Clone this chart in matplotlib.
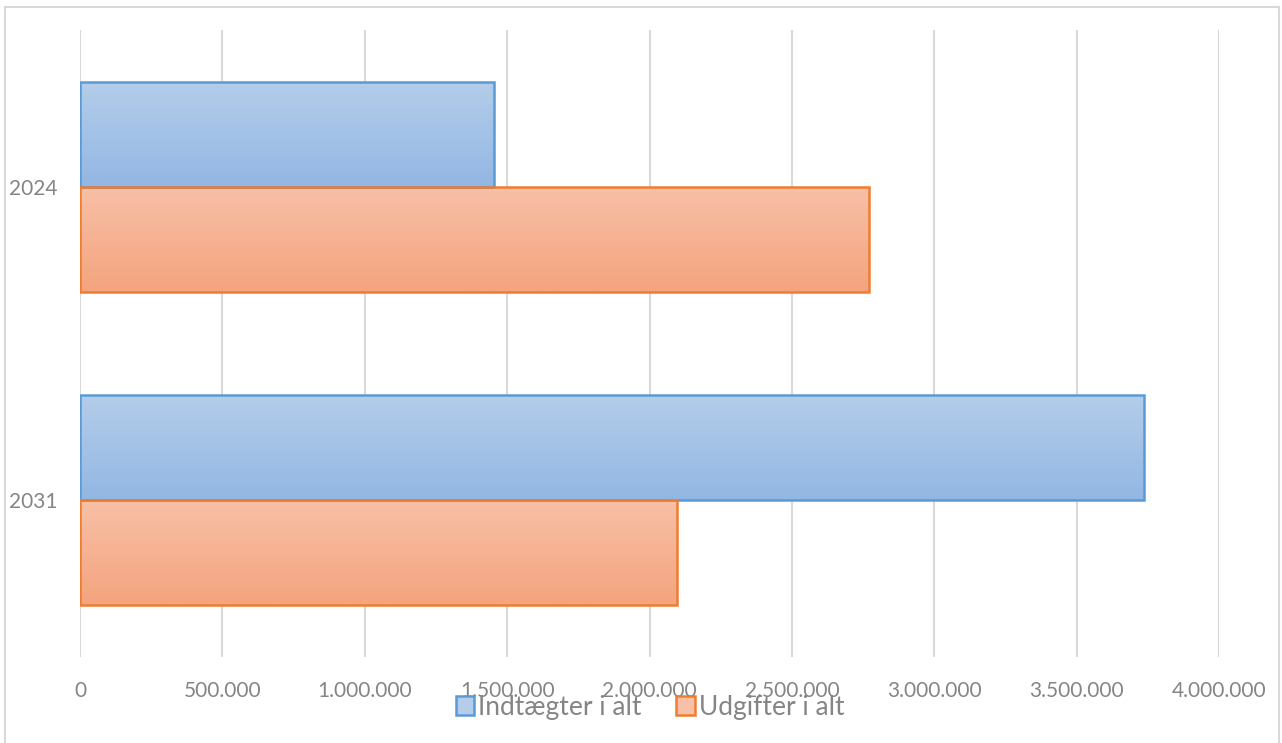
import matplotlib
matplotlib.use("Agg")
import matplotlib.pyplot as plt
import numpy as np
from matplotlib.patches import Patch
from matplotlib.ticker import FuncFormatter
from matplotlib.lines import Line2D

categories = ["2024", "2031"]
series_names = ["Indtægter i alt", "Udgifter i alt"]
indtaegter = [1455000, 3736000]
udgifter = [2770000, 2096000]
xticks = [0, 500000, 1000000, 1500000, 2000000, 2500000, 3000000, 3500000, 4000000]

plt.rcParams['font.family'] = ['Lato', 'DejaVu Sans']

W, H = 1282, 743
fig = plt.figure(figsize=(W / 100, H / 100), dpi=100)
ax = fig.add_axes([80 / W, 1 - 657 / H, (1219 - 80) / W, (657 - 30) / H])

bar_h = 0.335
ypos = np.arange(len(categories))
edge_cols = ["#5B9BD5", "#ED7D31"]
grad = [("#B4CDEA", "#93B7E3"), ("#F8C0A7", "#F4A47E")]

def hex2rgb(h):
    h = h.lstrip('#')
    return np.array([int(h[i:i + 2], 16) / 255 for i in (0, 2, 4)])

for si, vals in enumerate([indtaegter, udgifter]):
    offs = -bar_h / 2 if si == 0 else bar_h / 2
    bars = ax.barh(ypos + offs, vals, height=bar_h, facecolor='none',
                   edgecolor=edge_cols[si], linewidth=1.8, zorder=3)
    top, bot = hex2rgb(grad[si][0]), hex2rgb(grad[si][1])
    t = np.linspace(0, 1, 64)[:, None]
    img = (top[None, :] * (1 - t) + bot[None, :] * t)[:, None, :]
    for b in bars:
        x0, y0 = b.get_x(), b.get_y()
        w, h = b.get_width(), b.get_height()
        im = ax.imshow(img, extent=[x0, x0 + w, y0 + h, y0], aspect='auto',
                       zorder=2, interpolation='bilinear')
        im.set_clip_path(b)

ax.set_xlim(0, 4000000)
ax.set_ylim(len(categories) - 0.5, -0.5)
ax.set_yticks(ypos)
ax.set_yticklabels(categories)
ax.set_xticks(xticks)
ax.xaxis.set_major_formatter(FuncFormatter(lambda v, p: f"{int(v):,}".replace(",", ".")))
ax.grid(axis='x', color='#D9D9D9', linewidth=1.5, zorder=0)
ax.set_axisbelow(True)
for s in ax.spines.values():
    s.set_visible(False)
ax.tick_params(axis='both', length=0, colors='#858585', labelsize=15)
ax.tick_params(axis='x', pad=17)
ax.tick_params(axis='y', pad=16)

handles = [Patch(facecolor=grad[i][0], edgecolor=edge_cols[i], linewidth=1.8) for i in range(2)]
leg = fig.legend(handles, series_names, loc='center', bbox_to_anchor=(650 / W, 1 - 707 / H),
                 ncol=2, frameon=False, fontsize=19, handlelength=0.7, handleheight=0.7,
                 handletextpad=0.15, columnspacing=1.3, labelcolor='#858585',
                 borderpad=0, borderaxespad=0)

# chart border
fig.add_artist(Line2D([5 / W, 5 / W], [0, 1 - 7 / H], color='#D9D9D9', lw=1.5, transform=fig.transFigure))
fig.add_artist(Line2D([5 / W, 1279 / W], [1 - 7 / H, 1 - 7 / H], color='#D9D9D9', lw=1.5, transform=fig.transFigure))
fig.add_artist(Line2D([1279 / W, 1279 / W], [0, 1 - 7 / H], color='#D9D9D9', lw=1.5, transform=fig.transFigure))

fig.savefig("out.png", dpi=100)
